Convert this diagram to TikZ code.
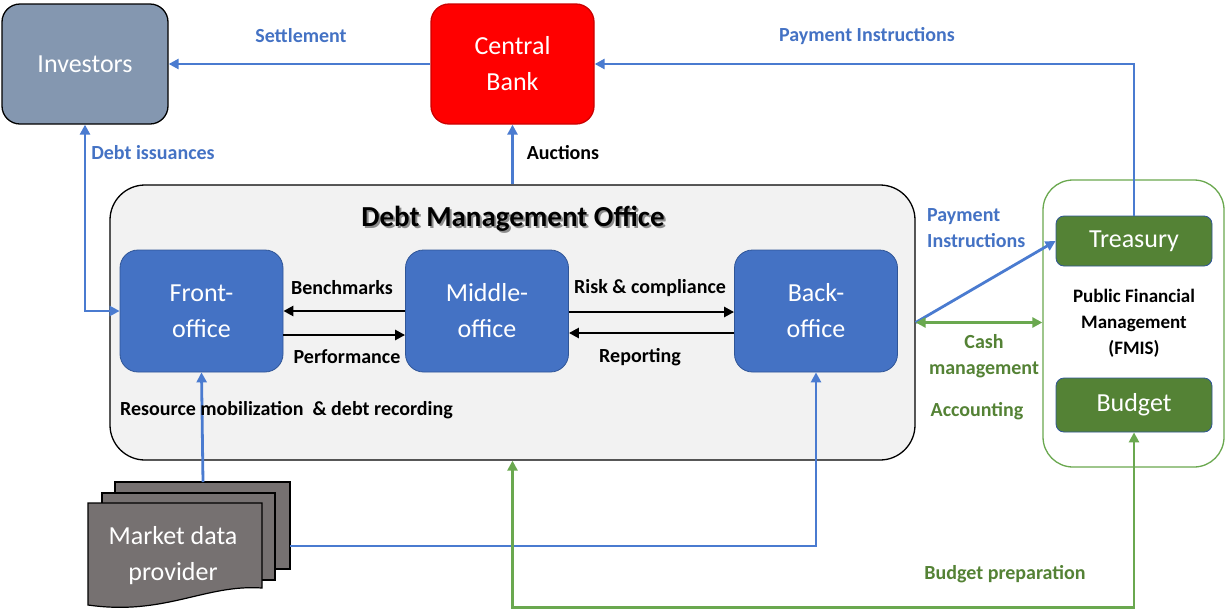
\documentclass[tikz,border=0pt]{standalone}
\usepackage{fontspec}
\setmainfont{Carlito}
\usetikzlibrary{arrows.meta,calc}
\definecolor{cblue}{HTML}{4472C4}
\definecolor{lblue}{HTML}{4A7BD0}
\definecolor{dgreen}{HTML}{548235}
\definecolor{lgreen}{HTML}{6AA84F}
\definecolor{invfill}{HTML}{8497B0}
\definecolor{cbred}{HTML}{FF0000}
\definecolor{dmofill}{HTML}{F2F2F2}
\definecolor{mdpfill}{HTML}{767171}
\definecolor{boxedge}{HTML}{2F5597}
\begin{document}
\begin{tikzpicture}[x=1pt,y=-1pt,
  big/.style={font=\fontsize{26}{36}\selectfont, text=white, align=center, inner sep=0pt},
  topbox/.style={big, draw=black, line width=1.3pt, rounded corners=18pt},
  office/.style={big, fill=cblue, draw=boxedge, line width=0.8pt, rounded corners=18pt, minimum width=163pt, minimum height=122pt},
  gbox/.style={big, fill=dgreen, draw=boxedge, line width=0.8pt, rounded corners=8pt, minimum width=156pt},
  lab/.style={font=\fontsize{20}{26}\selectfont\bfseries, inner sep=0pt},
  bluelab/.style={lab, text=cblue},
  greenlab/.style={lab, text=dgreen},
  blklab/.style={lab, text=black},
  tip/.style={-{Triangle[length=10pt,width=10pt]}},
  dtip/.style={{Triangle[length=10pt,width=10pt]}-{Triangle[length=10pt,width=10pt]}},
  bline/.style={draw=lblue, line width=2.8pt},
  gline/.style={draw=lgreen, line width=2.8pt},
  kline/.style={draw=black, line width=2.8pt}
]
\useasboundingbox (0,0) rectangle (1226,614);

% top boxes
\node[topbox, fill=invfill, minimum width=166pt, minimum height=120pt] (inv) at (85,64) {Investors};
\node[topbox, fill=cbred, draw=cbred!80!black, minimum width=163pt, minimum height=120pt] (cb) at (512.5,64) {Central\\Bank};

% DMO
\node[draw=black, line width=1.3pt, fill=dmofill, rounded corners=35pt, minimum width=805pt, minimum height=275pt, inner sep=0pt] (dmo) at (512.5,322.5) {};
\node[font=\fontsize{29}{34}\selectfont\bfseries, inner sep=0pt, text=black!45] (dmots) at (515,221) {Debt Management Office};
\node[font=\fontsize{29}{34}\selectfont\bfseries, inner sep=0pt] (dmot) at (513,219) {Debt Management Office};

\node[office] (fo) at (201.5,311) {Front-\\office};
\node[office] (mo) at (487,311) {Middle-\\office};
\node[office] (bo) at (816,311) {Back-\\office};

% FMIS
\node[draw=lgreen, line width=1.3pt, fill=white, rounded corners=30pt, minimum width=181pt, minimum height=287pt, inner sep=0pt] (fmis) at (1133.5,323.5) {};
\node[gbox, minimum height=50pt] (tre) at (1134,241) {Treasury};
\node[gbox, minimum height=54pt] (bud) at (1134,405) {Budget};
\node[font=\fontsize{19}{26}\selectfont\bfseries, align=center, inner sep=0pt] (fmist) at (1134,323) {Public Financial\\Management\\(FMIS)};

% Market data provider (multi-document)
\draw[fill=mdpfill, draw=black, line width=1.2pt] (115,482) rectangle (290,569);
\draw[fill=mdpfill, draw=black, line width=1.2pt] (102,493) rectangle (275,580);
\draw[fill=mdpfill, draw=black, line width=1.2pt] (88,503) -- (262,503) -- (262,588)
  .. controls (205,584) and (165,616) .. (88,605) -- cycle;
\node[big, align=center] (mdp) at (173,556) {Market data\\provider};
\coordinate (mdptop) at (203,482);
\coordinate (mdpright) at (290,546);

% connectors
\draw[bline, tip] (cb.west) -- (inv.east);
\draw[bline, tip] (tre.north) -- (tre.north |- cb.east) -- (cb.east);
\draw[bline, tip] (dmo.north -| cb.south) -- (cb.south);
\draw[bline, dtip] (inv.south) -- (inv.south |- fo.west) -- (fo.west);

\draw[kline, tip] (mo.west) -- (fo.east);
\draw[kline, tip] ([yshift=-24pt]fo.east) -- ([yshift=-24pt]mo.west);
\draw[kline, tip] ([yshift=-1pt]mo.east) -- ([yshift=-1pt]bo.west);
\draw[kline, tip] ([yshift=-22pt]bo.west) -- ([yshift=-22pt]mo.east);

\draw[bline, tip] (mdptop) -- (fo.south);
\draw[bline, tip] (mdpright) -- (mdpright -| bo.south) -- (bo.south);

\draw[gline, dtip] (dmo.south) -- ($(dmo.south)+(0,147)$) -| (bud.south);
\draw[bline, tip] (dmo.east) -- (tre.west);
\draw[gline, dtip] (dmo.east) -- (fmis.west |- dmo.east);

% labels
\node[bluelab] (l1) at (301,36) {Settlement};
\node[bluelab] (l2) at (867,36) {Payment Instructions};
\node[bluelab] (l3) at (153,153) {Debt issuances};
\node[blklab] (l4) at (563,153) {Auctions};
\node[blklab] (l5) at (342,288) {Benchmarks};
\node[blklab] (l6) at (347,357) {Performance};
\node[blklab] (l7) at (650,288) {Risk \& compliance};
\node[blklab] (l8) at (640,357) {Reporting};
\node[blklab, anchor=west] (l9) at (120,410) {Resource mobilization\ \ \& debt recording};
\node[bluelab, anchor=west, align=left] (l10) at (927,228) {Payment\\Instructions};
\node[greenlab, align=center] (l11) at (984,356) {Cash\\management};
\node[greenlab] (l12) at (977,411) {Accounting};
\node[greenlab] (l13) at (1005,574) {Budget preparation};
\end{tikzpicture}
\end{document}
